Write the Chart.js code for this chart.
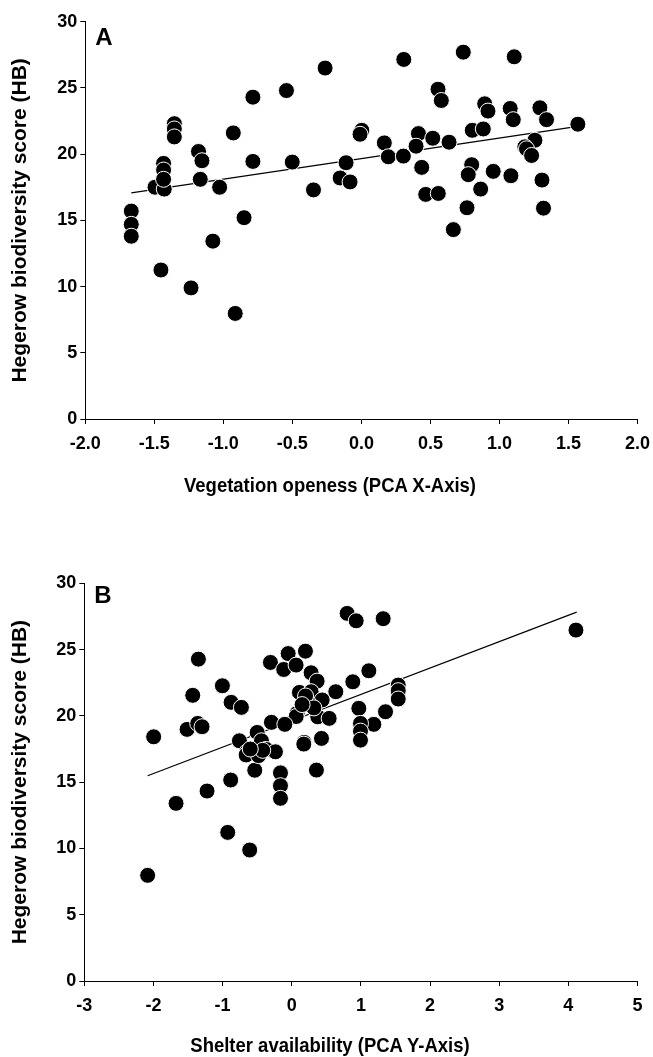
<!DOCTYPE html>
<html>
<head>
<meta charset="utf-8">
<script src="https://cdn.jsdelivr.net/npm/chart.js@4"></script>
<style>
  html, body { margin: 0; padding: 0; background: #fff; }
  canvas { position: absolute; left: 0; }
  #chartA { top: 0; }
  #chartB { top: 528px; }
  .xtitle {
    position: absolute; left: 330px; white-space: nowrap;
    font: bold 21px 'Liberation Sans', Arial, sans-serif; line-height: 24px; color: #000;
    transform: translateX(-50%) scaleX(0.88);
  }
</style>
</head>
<body>
<canvas id="chartA" width="653" height="528"></canvas>
<canvas id="chartB" width="653" height="529"></canvas>
<div class="xtitle" style="top:473px">Vegetation openess (PCA X-Axis)</div>
<div class="xtitle" style="top:1033px">Shelter availability (PCA Y-Axis)</div>
<script>
// Panel A: vegetation openness vs hedgerow biodiversity
const opennessX = [
  -1.667, -1.667, -1.667, -1.495, -1.428, -1.433, -1.433, -1.433, -1.355, -1.355,
  -1.355, -1.18, -1.155, -1.167, -1.027, -0.928, -0.786, -0.786, -0.85, -0.543,
  -0.501, -0.263, -0.347, -0.111, -0.154, -0.082, 0.003, -0.01, 0.166, 0.195,
  0.304, 0.307, 0.413, 0.396, 0.517, 0.635, 0.437, 0.466, 0.557, 0.555,
  0.579, 0.738, 1.107, 0.893, 0.917, 0.803, 0.883, 1.078, 1.1, 1.293,
  1.341, 1.568, 1.257, 1.184, 1.196, 1.233, 0.799, 0.774, 0.955, 1.083,
  0.864, 1.308, 0.765, 1.319, 0.666, -1.452, -1.234, -1.076, -0.914
];
const opennessHB = [
  15.7, 14.7, 13.8, 17.5, 17.36, 19.3, 18.8, 18.1, 22.3, 21.9,
  21.3, 20.2, 19.5, 18.1, 17.5, 21.6, 24.3, 19.45, 15.2, 24.8,
  19.4, 26.5, 17.3, 19.35, 18.2, 17.9, 21.8, 21.5, 20.85, 19.8,
  19.85, 27.15, 21.55, 20.6, 21.2, 20.9, 19.0, 16.96, 17.03, 24.9,
  24.05, 27.7, 27.35, 23.8, 23.25, 21.8, 21.9, 23.45, 22.6, 23.5,
  22.6, 22.26, 21.05, 20.55, 20.4, 19.9, 19.2, 18.45, 18.7, 18.37,
  17.36, 18.04, 15.95, 15.92, 14.3, 11.25, 9.9, 13.43, 7.97
];
const fitAX = [-1.667, 1.568];
const fitAY = [17.07, 22.1];

// Panel B: shelter availability vs hedgerow biodiversity
const shelterX = [
  -1.997, -1.514, -1.36, -1.297, -1.432, -1.35, -1.003, -0.877, -0.728, -0.308,
  -0.116, -0.052, 0.063, 0.198, 0.28, 0.367, 0.111, 0.28, 0.44, 0.637,
  0.246, 0.078, 0.064, 0.376, 0.541, -0.294, -0.1, 0.179, 0.43, -0.757,
  -0.5, -0.438, -0.37, -0.236, -0.645, -0.535, -0.163, -0.163, -0.163, 0.174,
  0.357, -0.883, -1.225, -1.673, -0.926, -0.608, -2.084, 0.801, 0.932, 1.322,
  4.11, 1.115, 0.883, 0.97, 1.356, 1.54, 1.54, 1.54, 1.187, 0.994,
  0.994, 0.994, -0.66, -0.48, -0.42, -0.6, 0.2, 0.32, 0.15
];
const shelterHB = [
  18.42, 18.98, 19.43, 19.18, 21.55, 24.28, 22.27, 21.02, 20.64, 24.03,
  23.5, 24.7, 23.83, 24.88, 23.25, 22.62, 21.77, 21.82, 21.2, 21.82,
  20.94, 20.19, 19.95, 19.93, 19.81, 19.51, 19.36, 18.0, 18.3, 18.12,
  18.75, 18.12, 17.47, 17.29, 17.29, 15.9, 15.7, 14.73, 13.78, 17.87,
  15.91, 15.16, 14.33, 13.4, 11.21, 9.88, 7.97, 27.73, 27.17, 27.33,
  26.47, 23.4, 22.57, 20.57, 20.31, 22.32, 21.9, 21.27, 19.36, 19.43,
  18.85, 18.17, 17.05, 17.0, 17.4, 17.5, 21.5, 20.6, 20.85
];
const fitBX = [-2.084, 4.12];
const fitBY = [15.48, 27.83];

const FONT = "'Liberation Sans', Arial, sans-serif";

function toPoints(xs, ys) {
  return xs.map((x, i) => ({ x, y: ys[i] }));
}

// panel letter in the top-left corner of the plot
const panelLabel = {
  id: 'panelLabel',
  afterDraw(chart, args, opts) {
    const ctx = chart.ctx;
    ctx.save();
    ctx.font = `bold 24px ${FONT}`;
    ctx.fillStyle = '#000';
    ctx.textBaseline = 'alphabetic';
    ctx.fillText(opts.text, chart.chartArea.left + opts.dx, chart.chartArea.top + opts.dy);
    ctx.restore();
  }
};

function makeChart(id, cfg) {
  const axisCommon = {
    type: 'linear',
    grid: { display: true, drawOnChartArea: false, drawTicks: true, tickLength: 5, color: '#000', lineWidth: 1 },
    border: { display: true, color: '#000', width: 1 },
  };
  return new Chart(document.getElementById(id), {
    type: 'scatter',
    data: {
      datasets: [
        {
          data: toPoints(cfg.xs, cfg.ys),
          backgroundColor: '#000',
          borderColor: '#fff',
          borderWidth: 1,
          pointRadius: 8,
          pointHoverRadius: 8,
          order: 0
        },
        {
          type: 'line',
          data: toPoints(cfg.fitX, cfg.fitY),
          borderColor: '#000',
          borderWidth: 1.2,
          pointRadius: 0,
          fill: false,
          order: 1
        }
      ]
    },
    options: {
      responsive: false,
      animation: false,
      events: [],
      layout: { padding: { top: cfg.top, right: 15.5, left: 0, bottom: 0 } },
      plugins: {
        legend: { display: false },
        tooltip: { enabled: false },
        panelLabel: { text: cfg.label, dx: 10, dy: cfg.labelDy }
      },
      scales: {
        x: {
          ...axisCommon,
          min: cfg.xMin, max: cfg.xMax,
          ticks: {
            stepSize: cfg.xStep, color: '#000', padding: 9,
            font: { family: FONT, size: 18, weight: 'bold' },
            callback: cfg.xFormat
          },
          afterFit(scale) {
            scale.height = cfg.xHeight;
            scale.paddingRight = 0; // let layout padding set the right edge
          }
        },
        y: {
          ...axisCommon,
          min: 0, max: 30,
          ticks: {
            stepSize: 5, color: '#000', padding: 3,
            font: { family: FONT, size: 18, weight: 'bold' }
          },
          title: {
            display: true, text: 'Hegerow biodiversity score (HB)', color: '#000',
            font: { family: FONT, size: 21, weight: 'bold' },
            padding: { top: 8, bottom: 0 }
          },
          afterFit(scale) { scale.width = cfg.yWidth; }
        }
      }
    },
    plugins: [panelLabel]
  });
}

makeChart('chartA', {
  xs: opennessX, ys: opennessHB, fitX: fitAX, fitY: fitAY,
  xMin: -2, xMax: 2, xStep: 0.5, xFormat: v => v.toFixed(1),
  top: 21.7, xHeight: 109, yWidth: 85.3,
  label: 'A', labelDy: 23.3
});

makeChart('chartB', {
  xs: shelterX, ys: shelterHB, fitX: fitBX, fitY: fitBY,
  xMin: -3, xMax: 5, xStep: 1, xFormat: v => String(v),
  top: 55.3, xHeight: 76, yWidth: 84.3,
  label: 'B', labelDy: 20
});
</script>
</body>
</html>
